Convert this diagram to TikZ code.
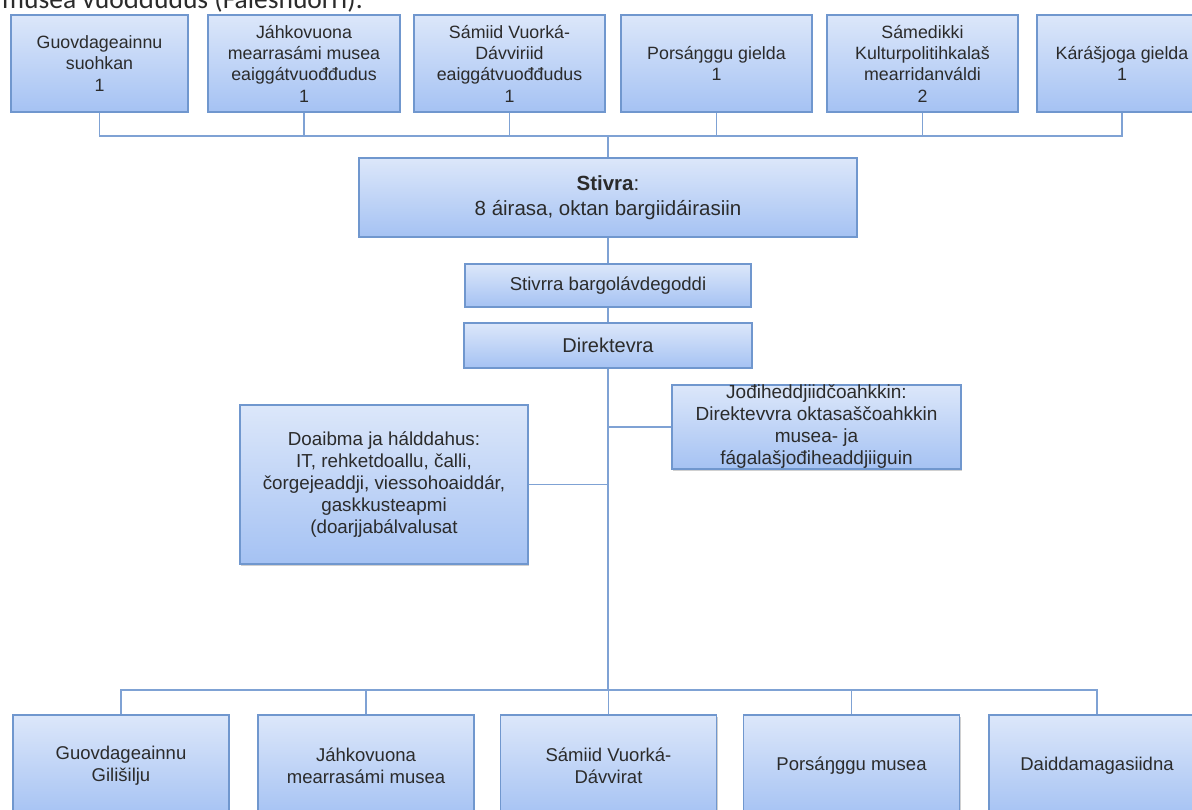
\documentclass[tikz,border=0pt]{standalone}
\usepackage{fontspec}
\setmainfont{Liberation Sans}
\newfontfamily\calibrifont{Carlito}
\usetikzlibrary{shadows}
\definecolor{boxtop}{HTML}{DCE7FA}
\definecolor{boxbot}{HTML}{A5C2F3}
\definecolor{boxline}{HTML}{7097CE}
\definecolor{connc}{HTML}{7FA2D4}
\definecolor{txtc}{HTML}{2B2B2B}
\begin{document}
\begin{tikzpicture}[x=1pt,y=-1pt,
  box/.style={draw=boxline, line width=1.1pt, top color=boxtop, bottom color=boxbot,
    drop shadow={shadow xshift=1.2pt, shadow yshift=-1.5pt, opacity=0.3, fill=black!60},
    inner sep=0pt, align=center, text=txtc},
  topbox/.style={box, minimum height=97pt, font=\fontsize{17.8}{21.3}\selectfont},
  botbox/.style={box, minimum width=216pt, minimum height=102pt, font=\fontsize{18.5}{21.7}\selectfont},
  midtxt/.style={inner sep=0pt, align=center, text=txtc, font=\fontsize{19}{22}\selectfont},
  connline/.style={draw=connc, line width=1.5pt}
]
\useasboundingbox (0,0) rectangle (1192,810);
\fill[white] (0,0) rectangle (1192,810);
\clip (0,0) rectangle (1192,810);

% heading text cut at top
\node[anchor=base west, inner sep=0pt, text=txtc, font=\calibrifont\fontsize{27.5}{30}\selectfont] (head) at (2,9) {musea vuođđudus (Fáleshuorri).};

% top row
\node[topbox, minimum width=177pt] (t1) at (99.5,63.5) {Guovdageainnu\\suohkan\\1};
\node[topbox, minimum width=192pt] (t2) at (304,63.5) {Jáhkovuona\\mearrasámi musea\\eaiggátvuođđudus\\1};
\node[topbox, minimum width=191pt] (t3) at (509.5,63.5) {Sámiid Vuorká-\\Dávviriid\\eaiggátvuođđudus\\1};
\node[topbox, minimum width=191pt] (t4) at (716.5,63.5) {Porsáŋggu gielda\\1};
\node[topbox, minimum width=191pt] (t5) at (922.5,63.5) {Sámedikki\\Kulturpolitihkalaš\\mearridanváldi\\2};
\node[topbox, minimum width=170pt] (t6) at (1122,63.5) {Kárášjoga gielda\\1};

% middle column
\node[box, minimum width=498pt, minimum height=79pt, font=\fontsize{20.5}{25}\selectfont] (st) at (608,197.5) {\textbf{Stivra}:\\8 áirasa, oktan bargiidáirasiin};
\node[box, minimum width=286pt, minimum height=43pt, font=\fontsize{18.6}{22}\selectfont] (bg) at (608,285.5) {Stivrra bargolávdegoddi};
\node[box, minimum width=288pt, minimum height=45pt, font=\fontsize{20}{24}\selectfont] (dir) at (608,345.5) {Direktevra};

\node[box, minimum width=289pt, minimum height=84pt] (jo) at (816.5,427) {};
\node[midtxt] (jotxt) at (jo.center) {Jođiheddjiidčoahkkin:\\Direktevvra oktasaščoahkkin\\musea- ja\\fágalašjođiheaddjiiguin};

\node[box, minimum width=288pt, minimum height=159pt, font=\fontsize{18.8}{22}\selectfont] (doa) at (384,484.5) {Doaibma ja hálddahus:\\IT, rehketdoallu, čalli,\\čorgejeaddji, viessohoaiddár,\\gaskkusteapmi\\(doarjjabálvalusat};

% bottom row
\node[botbox] (b1) at (121,766) {Guovdageainnu\\Gilišilju};
\node[botbox] (b2) at (366,766) {Jáhkovuona\\mearrasámi musea};
\node[botbox] (b3) at (608.5,766) {Sámiid Vuorká-\\Dávvirat};
\node[botbox] (b4) at (851.5,766) {Porsáŋggu musea};
\node[botbox] (b5) at (1097,766) {Daiddamagasiidna};

% connectors
\coordinate (tbus) at (608,136);
\foreach \n in {t1,t2,t3,t4,t5,t6} \draw[connline] (\n.south) |- (tbus);
\draw[connline] (tbus) -- (st.north);
\draw[connline] (st.south) -- (bg.north);
\draw[connline] (bg.south) -- (dir.north);
\coordinate (bbus) at (608,690);
\draw[connline] (dir.south) -- (bbus);
\draw[connline] (dir.south) |- (doa.east);
\draw[connline] (dir.south) |- (jo.west);
\foreach \n in {b1,b2,b3,b4,b5} \draw[connline] (bbus) -| (\n.north);
\end{tikzpicture}
\end{document}
